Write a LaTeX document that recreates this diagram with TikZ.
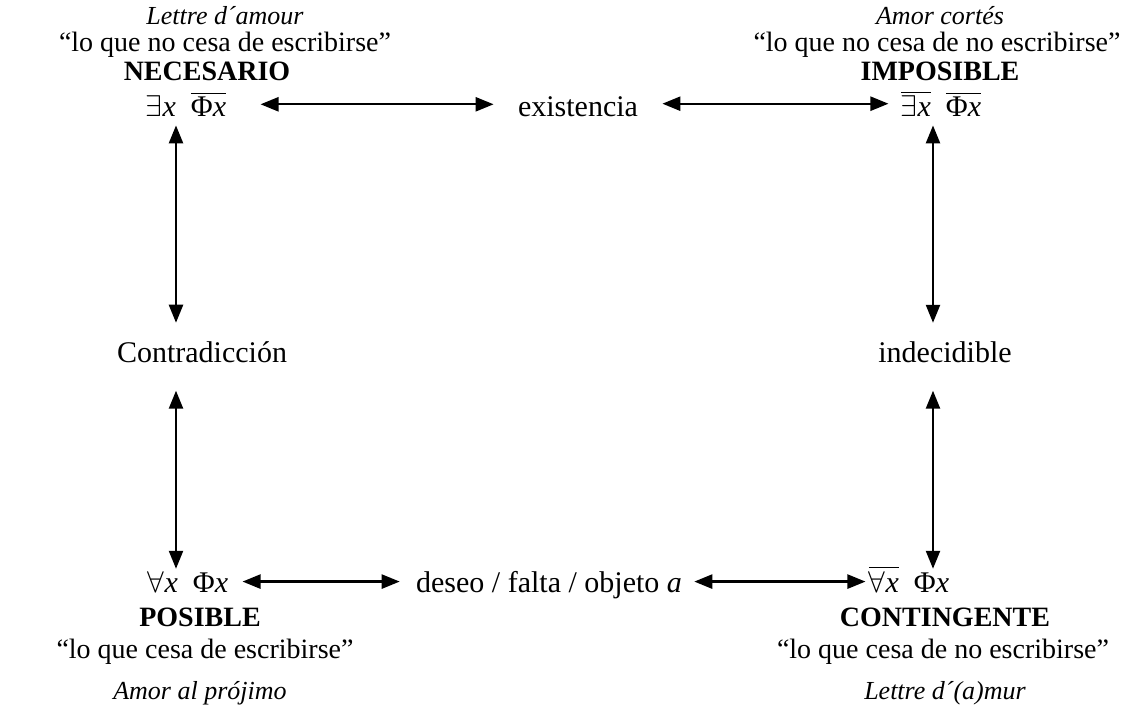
\documentclass[tikz,border=0pt]{standalone}
\usepackage{fix-cm}
\usepackage{amsmath}
\usepackage{fontspec}
\setmainfont{Liberation Serif}
\usepackage{tikz}
\usetikzlibrary{arrows.meta, positioning}
\newcommand{\negbar}[1]{$\overline{\text{#1}}$}

\begin{document}
\fontsize{12}{14.4}\selectfont
\begin{tikzpicture}[x=0.5pt, y=-0.5pt,
    txt/.style={inner sep=0pt, anchor=base},
    gloss/.style={txt, font=\fontsize{13}{15}\selectfont\itshape},
    quote/.style={txt, font=\fontsize{14}{16}\selectfont},
    mid/.style={txt, font=\fontsize{15}{18}\selectfont},
    title/.style={txt, font=\fontsize{14}{16}\selectfont\bfseries},
    link/.style={{Triangle[length=9pt,width=7pt]}-{Triangle[length=9pt,width=7pt]}, line width=1.2pt}
]
    \useasboundingbox (0,0) rectangle (1126,717);

    % top left corner
    \node (nl1) [gloss] at (225,25) {Lettre d´amour};
    \node (nl2) [quote] at (225,52) {“lo que no cesa de escribirse”};
    \node (nl3) [title] at (207,81) {NECESARIO};
    \node (nec) [mid] at (186,117) {$\exists$\textit{x}~~\negbar{Φ\textit{x}}};

    % top right corner
    \node (il1) [gloss] at (940,25) {Amor cortés};
    \node (il2) [quote] at (937,52) {“lo que no cesa de no escribirse”};
    \node (il3) [title] at (940,81) {IMPOSIBLE};
    \node (imp) [mid] at (941,117) {\negbar{$\exists$\textit{x}}~~\negbar{Φ\textit{x}}};

    % middle labels
    \node (exist) [mid] at (578,117) {existencia};
    \node (contra) [mid] at (202,362) {Contradicción};
    \node (indec) [mid] at (945,362) {indecidible};
    \node (deseo) [mid] at (549,592) {deseo / falta / objeto \textit{a}};

    % bottom left corner
    \node (pos) [mid] at (188,592) {$\forall$\textit{x}~~Φ\textit{x}};
    \node (pl1) [title] at (200,626) {POSIBLE};
    \node (pl2) [quote] at (205,658) {“lo que cesa de escribirse”};
    \node (pl3) [gloss] at (200,699) {Amor al prójimo};

    % bottom right corner
    \node (cont) [mid] at (909,592) {\negbar{$\forall$\textit{x}}~~Φ\textit{x}};
    \node (cl1) [title] at (945,626) {CONTINGENTE};
    \node (cl2) [quote] at (943,658) {“lo que cesa de no escribirse”};
    \node (cl3) [gloss] at (945,699) {Lettre d´(a)mur};

    \coordinate (lx) at (176,0);
    \coordinate (rx) at (933,0);

    % horizontal links
    \draw [link, shorten <=17pt, shorten >=12pt] (nec.east) -- (nec.east -| exist.west);
    \draw [link, shorten <=12pt, shorten >=6pt] (exist.east |- imp.west) -- (imp.west);
    \draw [link, shorten <=7pt, shorten >=8pt] (pos.east) -- (pos.east -| deseo.west);
    \draw [link, shorten <=6pt, shorten >=1.5pt] (deseo.east |- pos.east) -- (cont.west |- pos.east);

    % vertical links
    \draw [link, shorten <=4pt, shorten >=9pt] (nec.south -| lx) -- (contra.north -| lx);
    \draw [link, shorten <=14pt, shorten >=1pt] (contra.south -| lx) -- (pos.north -| lx);
    \draw [link, shorten <=4pt, shorten >=9pt] (imp.south -| rx) -- (indec.north -| rx);
    \draw [link, shorten <=14pt, shorten >=1pt] (indec.south -| rx) -- (pos.north -| rx);
\end{tikzpicture}
\end{document}
